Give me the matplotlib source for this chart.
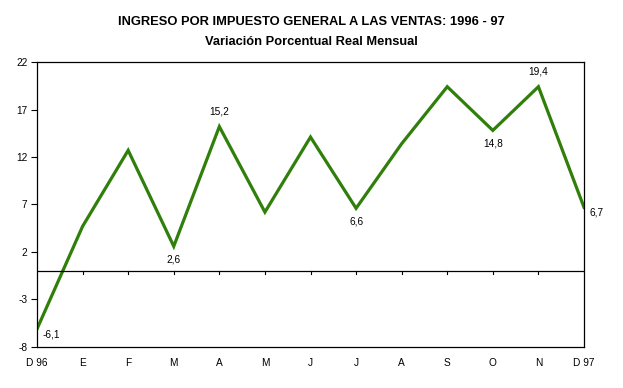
import matplotlib
matplotlib.use('Agg')
import matplotlib.pyplot as plt

plt.rcParams['font.family'] = ['Liberation Sans', 'DejaVu Sans']

months = ['D 96', 'E', 'F', 'M', 'A', 'M', 'J', 'J', 'A', 'S', 'O', 'N', 'D 97']
values = [-6.1, 4.7, 12.7, 2.6, 15.2, 6.2, 14.1, 6.6, 13.4, 19.4, 14.8, 19.4, 6.7]
yticks = [-8, -3, 2, 7, 12, 17, 22]
# which points get a label, and where
labelled = {0: 'right', 3: 'below', 4: 'above', 7: 'below', 10: 'below', 11: 'above', 12: 'right'}

green = '#2f7f0a'

fig = plt.figure(figsize=(6.23, 3.88), dpi=100)
ax = fig.add_axes([0.0594, 0.1057, 0.878, 0.7345])

x = list(range(len(months)))
ax.plot(x, values, color=green, lw=2.3, solid_joinstyle='miter')
ax.set_xlim(0, len(months) - 1)
ax.set_ylim(-8, 22)
ax.set_yticks(yticks)
ax.set_yticklabels([str(t) for t in yticks], fontsize=7.3)
ax.tick_params(axis='y', length=4, width=0.8, pad=3)

# category axis sits on zero
ax.axhline(0, color='black', lw=0.9)
ax.set_xticks(x)
ax.set_xticklabels(months, fontsize=7.3)
ax.tick_params(axis='x', length=0, pad=8)
for xi in x[1:-1]:
    ax.plot([xi, xi], [0, -0.35], color='black', lw=0.8, clip_on=False)

for sp in ax.spines.values():
    sp.set_linewidth(0.9)

for i, pos in labelled.items():
    txt = ('%.1f' % values[i]).replace('.', ',')
    if pos == 'right':
        ax.annotate(txt, (x[i], values[i]), xytext=(4, -4), textcoords='offset points',
                    ha='left', va='center', fontsize=7.3, annotation_clip=False)
    elif pos == 'below':
        ax.annotate(txt, (x[i], values[i]), xytext=(0, -6), textcoords='offset points',
                    ha='center', va='top', fontsize=7.3)
    else:
        ax.annotate(txt, (x[i], values[i]), xytext=(0, 7), textcoords='offset points',
                    ha='center', va='bottom', fontsize=7.3)

fig.text(0.5, 0.943, 'INGRESO POR IMPUESTO GENERAL A LAS VENTAS: 1996 - 97',
         ha='center', va='center', fontsize=9.3, fontweight='bold')
fig.text(0.5, 0.891, 'Variación Porcentual Real Mensual',
         ha='center', va='center', fontsize=9.3, fontweight='bold')

fig.savefig('out.png', dpi=100)
